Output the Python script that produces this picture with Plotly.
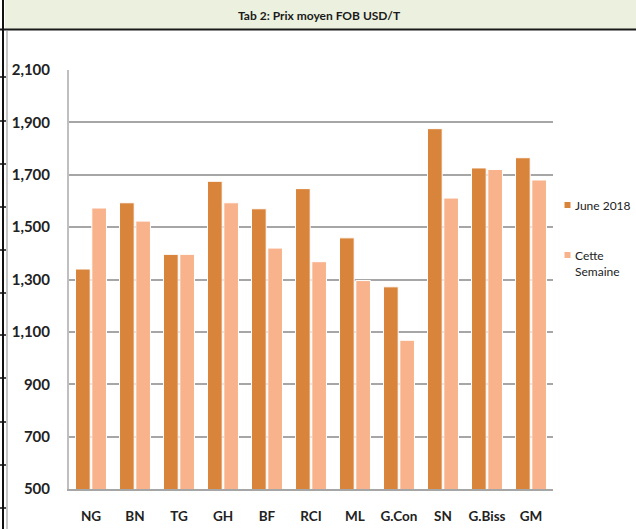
import plotly.graph_objects as go

categories = ["NG", "BN", "TG", "GH", "BF", "RCI", "ML", "G.Con", "SN", "G.Biss", "GM"]
june_2018 = [1340, 1593, 1396, 1675, 1570, 1647, 1459, 1272, 1876, 1726, 1765]
cette_semaine = [1573, 1523, 1396, 1593, 1420, 1368, 1296, 1068, 1611, 1720, 1680]
y_ticks = [500, 700, 900, 1100, 1300, 1500, 1700, 1900, 2100]
series_names = ["June 2018", "Cette Semaine"]
title_text = "Tab 2: Prix moyen FOB USD/T"

C_DARK = "#D9843B"
C_LIGHT = "#F8B38C"

W, H = 636, 529
L, R, T, B = 69, 83, 70, 40
PW, PH = W - L - R, H - T - B


def px(x):
    return (x - L) / PW


def py(y):
    return (H - B - y) / PH


fig = go.Figure()
fig.add_trace(go.Bar(x=categories, y=june_2018, name=series_names[0],
                     marker=dict(color=C_DARK, line=dict(color="white", width=1)),
                     showlegend=False))
fig.add_trace(go.Bar(x=categories, y=cette_semaine, name=series_names[1],
                     marker=dict(color=C_LIGHT, line=dict(color="white", width=1)),
                     showlegend=False))

shapes = []
# title bar
shapes.append(dict(type="rect", xref="paper", yref="paper",
                   x0=px(5), x1=px(640), y0=py(29), y1=py(-2),
                   fillcolor="#EBF1DE", line=dict(width=0), layer="below"))
shapes.append(dict(type="line", xref="paper", yref="paper",
                   x0=px(0), x1=px(640), y0=py(29.5), y1=py(29.5),
                   line=dict(color="#1a1a1a", width=2)))
# spreadsheet column lines
shapes.append(dict(type="line", xref="paper", yref="paper",
                   x0=px(7), x1=px(7), y0=py(31), y1=py(532),
                   line=dict(color="#C8C8C8", width=2)))
shapes.append(dict(type="line", xref="paper", yref="paper",
                   x0=px(3), x1=px(3), y0=py(-2), y1=py(532),
                   line=dict(color="#111111", width=2)))
for ry in [77, 121, 164, 207, 250, 293, 335, 378, 422, 465, 508]:
    shapes.append(dict(type="line", xref="paper", yref="paper",
                       x0=px(0), x1=px(6), y0=py(ry), y1=py(ry),
                       line=dict(color="#111111", width=1.5)))
# custom legend markers
shapes.append(dict(type="rect", xref="paper", yref="paper",
                   x0=px(564.5), x1=px(570.5), y0=py(208), y1=py(202),
                   fillcolor=C_DARK, line=dict(width=0)))
shapes.append(dict(type="rect", xref="paper", yref="paper",
                   x0=px(564.5), x1=px(570.5), y0=py(258), y1=py(252),
                   fillcolor=C_LIGHT, line=dict(width=0)))

annotations = [
    dict(text="<b>" + title_text + "</b>", xref="paper", yref="paper",
         x=px(319), y=py(16), xanchor="center", yanchor="middle", showarrow=False,
         font=dict(family="Lato", size=12, color="#1a1a1a")),
    dict(text=series_names[0], xref="paper", yref="paper",
         x=px(573), y=py(205), xanchor="left", yanchor="middle", showarrow=False,
         font=dict(family="Lato", size=12, color="#222222")),
    dict(text=series_names[1].replace(" ", "<br>"), xref="paper", yref="paper",
         x=px(573), y=py(246), xanchor="left", yanchor="top", align="left",
         showarrow=False,
         font=dict(family="Lato", size=12, color="#222222")),
]

fig.update_layout(
    width=W, height=H,
    margin=dict(l=L, r=R, t=T, b=B, pad=0),
    paper_bgcolor="white", plot_bgcolor="white",
    barmode="group", bargap=0.26, bargroupgap=0.1,
    shapes=shapes, annotations=annotations,
    showlegend=False,
    font=dict(family="Lato", color="#222222"),
)
fig.update_yaxes(range=[500, 2100], tickvals=y_ticks, tickformat=",d",
                 showgrid=True, gridcolor="#A6A6A6", gridwidth=1.5,
                 showline=True, linecolor="#BFBFBF", linewidth=2,
                 ticks="", ticklabelstandoff=14, zeroline=False, automargin=False,
                 tickfont=dict(family="Lato", size=15, color="#222222", weight="bold"))
fig.update_xaxes(showline=True, linecolor="#A6A6A6", linewidth=2,
                 ticks="", ticklabelstandoff=14, automargin=False,
                 tickfont=dict(family="Lato", size=13.5, color="#222222", weight="bold"))

fig.write_html("out.html", config={"displayModeBar": False},
               post_script="document.body.style.margin='0px';document.body.style.overflow='hidden';")
